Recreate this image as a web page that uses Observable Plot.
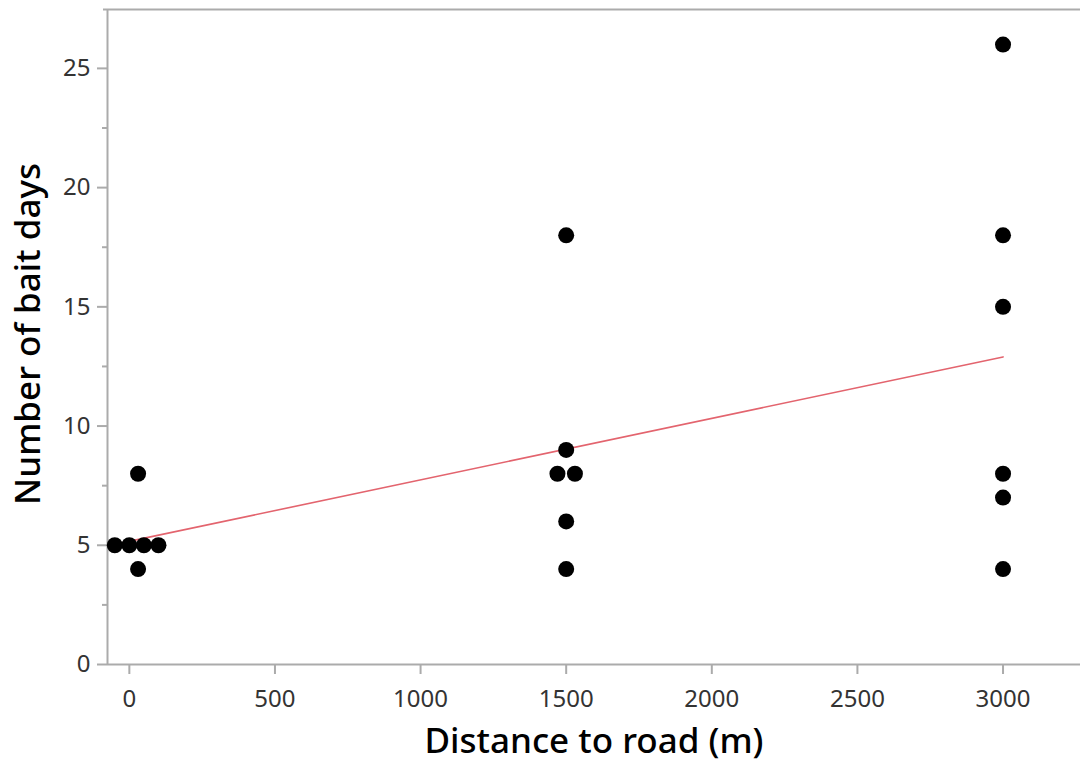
<!DOCTYPE html>
<html>
<head>
<meta charset="utf-8">
<script src="https://cdn.jsdelivr.net/npm/d3@7"></script>
<script src="https://cdn.jsdelivr.net/npm/@observablehq/plot@0.6"></script>
<style>
  html, body { margin: 0; padding: 0; background: #fff; }
  #chart svg { display: block; }
</style>
</head>
<body>
<div id="chart"></div>
<script>
// Distance to road (m) and number of bait days for each site
const distance = [-50, 0, 50, 100, 30, 30, 1500, 1500, 1500, 1500, 1470, 1530, 3000, 3000, 3000, 3000, 3000, 3000];
const baitDays = [5, 5, 5, 5, 8, 4, 18, 9, 6, 4, 8, 8, 26, 18, 15, 8, 7, 4];

const xTicks = [0, 500, 1000, 1500, 2000, 2500, 3000];
const yTicks = [0, 5, 10, 15, 20, 25];
const yMinorTicks = [2.5, 7.5, 12.5, 17.5, 22.5];

const xDomain = [-75, 3266];
const yDomain = [0, 27.47];

const xLabel = "Distance to road (m)";
const yLabel = "Number of bait days";

const data = distance.map((d, i) => ({distance: d, days: baitDays[i]}));

const axisColor = "#ababab";
const font = "'Noto Sans', 'Open Sans', sans-serif";

const chart = Plot.plot({
  width: 1080,
  height: 765,
  marginLeft: 107,
  marginTop: 9,
  marginBottom: 101,
  marginRight: 0,
  style: {fontFamily: font, background: "#fff", overflow: "visible"},
  x: {domain: xDomain},
  y: {domain: yDomain},
  marks: [
    Plot.ruleY([yDomain[1]], {stroke: axisColor, strokeWidth: 2, insetLeft: -4}),
    Plot.ruleX([xDomain[0]], {stroke: axisColor, strokeWidth: 2}),
    Plot.ruleY([0], {stroke: axisColor, strokeWidth: 2}),
    Plot.axisY({ticks: yTicks, tickSize: 10, tickPadding: 7, stroke: axisColor, strokeWidth: 2, fill: "#333", fontSize: 24, label: null}),
    Plot.axisY({ticks: yMinorTicks, tickSize: 5, stroke: axisColor, strokeWidth: 2, tickFormat: () => "", label: null}),
    Plot.axisX({ticks: xTicks, tickSize: 10, tickPadding: 15, stroke: axisColor, strokeWidth: 2, fill: "#333", fontSize: 24, label: null, tickFormat: d => String(d)}),
    Plot.linearRegressionY(data, {x: "distance", y: "days", stroke: "#e3646e", strokeWidth: 1.6, ci: 0}),
    Plot.dot(data, {x: "distance", y: "days", r: 8, fill: "#000", stroke: "none"}),
    Plot.text([xLabel], {frameAnchor: "bottom", textAnchor: "middle", lineAnchor: "middle", dy: 77, fontSize: 35, fontWeight: 500, fill: "#000", fontFamily: font}),
    Plot.text([yLabel], {frameAnchor: "left", textAnchor: "middle", lineAnchor: "middle", dx: -79, dy: -3, rotate: -90, fontSize: 35, fontWeight: 500, fill: "#000", fontFamily: font})
  ]
});

document.getElementById("chart").appendChild(chart);
</script>
</body>
</html>
